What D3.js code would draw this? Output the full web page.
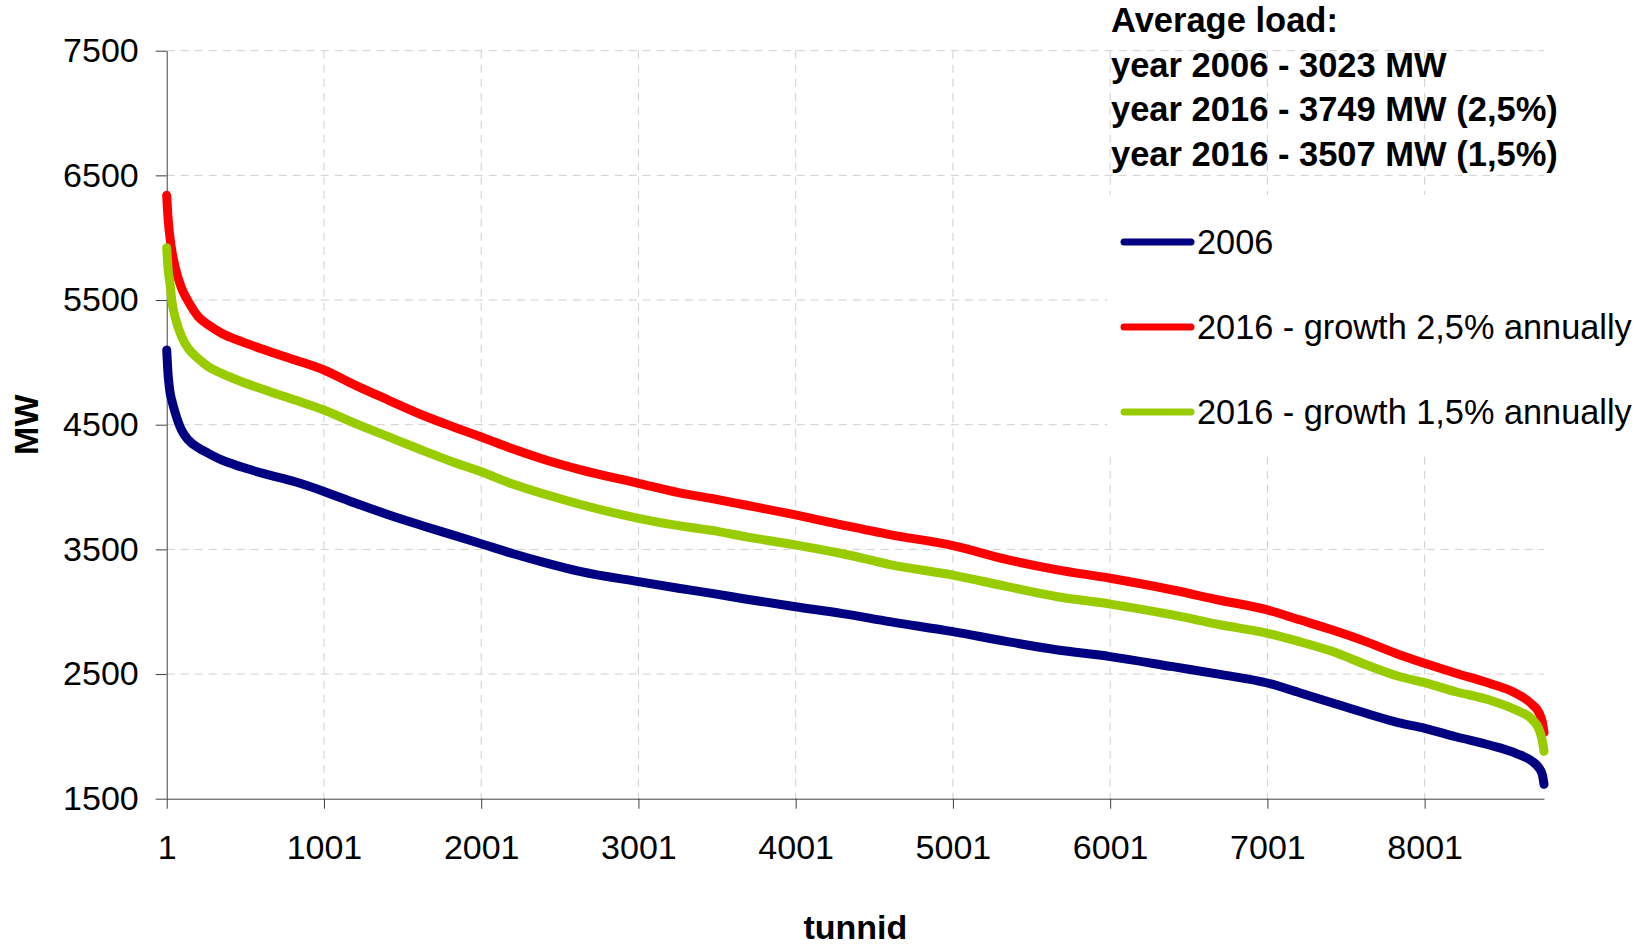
<!DOCTYPE html>
<html>
<head>
<meta charset="utf-8">
<script src="https://cdn.jsdelivr.net/npm/d3@7"></script>
<style>
  body { margin: 0; background: #fff; }
  svg { font-family: "Liberation Sans", Arial, sans-serif; }
</style>
</head>
<body>
<div id="chart"></div>
<script>
// hours of the year (load duration curve, sorted)
var hours = [1, 10, 15, 22, 33, 54, 96, 139, 202, 266, 350, 478, 626, 817, 1001, 1199, 1410, 1622, 1834, 2001,
  2205, 2417, 2628, 3001, 3256, 3468, 3680, 4001, 4300, 4600, 5001, 5340, 5658, 6001, 6399, 6700, 7001, 7205,
  7416, 7628, 7840, 8001, 8200, 8412, 8582, 8688, 8730, 8750, 8760];

var load2006 = [5100, 4900, 4832, 4760, 4698, 4600, 4455, 4377, 4315, 4270, 4217, 4160, 4105, 4042, 3965, 3872,
  3778, 3692, 3610, 3545, 3465, 3390, 3323, 3241, 3188, 3147, 3102, 3040, 2985, 2920, 2840, 2762, 2695, 2640,
  2559, 2497, 2428, 2350, 2268, 2185, 2108, 2065, 1997, 1931, 1864, 1797, 1744, 1690, 1615];

var load2016_25 = [6340, 6150, 6080, 6000, 5900, 5767, 5594, 5487, 5366, 5300, 5233, 5166, 5099, 5019, 4939, 4818,
  4698, 4580, 4478, 4402, 4305, 4215, 4140, 4030, 3955, 3908, 3856, 3776, 3695, 3618, 3530, 3420, 3338, 3268,
  3174, 3092, 3014, 2935, 2853, 2760, 2655, 2586, 2506, 2426, 2345, 2252, 2185, 2110, 2030];

var load2016_15 = [5920, 5750, 5690, 5634, 5500, 5366, 5206, 5110, 5030, 4965, 4912, 4845, 4778, 4698, 4618, 4511,
  4404, 4297, 4195, 4122, 4022, 3938, 3862, 3749, 3690, 3652, 3602, 3535, 3465, 3378, 3294, 3203, 3122, 3061,
  2974, 2895, 2827, 2760, 2680, 2575, 2480, 2431, 2358, 2292, 2211, 2131, 2051, 1960, 1880];

var seriesNames = ["2006", "2016 - growth 2,5% annually", "2016 - growth 1,5% annually"];
var seriesColors = ["#000080", "#ff0000", "#99cc00"];

var xTicks = [1, 1001, 2001, 3001, 4001, 5001, 6001, 7001, 8001];
var yTicks = [1500, 2500, 3500, 4500, 5500, 6500, 7500];

var titleLines = ["Average load:", "year 2006 - 3023 MW", "year 2016 - 3749 MW (2,5%)", "year 2016 - 3507 MW (1,5%)"];

var margin = {top: 50.7, right: 103, bottom: 146.3, left: 166.7},
    width = 1647 - margin.left - margin.right,
    height = 945 - margin.top - margin.bottom;

var svg = d3.select("#chart")
  .append("svg")
  .attr("width", 1647)
  .attr("height", 945)
  .append("g")
  .attr("transform", "translate(" + margin.left + "," + margin.top + ")");

var x = d3.scaleLinear().domain([1, 8760]).range([0, width]);
var y = d3.scaleLinear().domain([1500, 7500]).range([height, 0]);

// dashed grid
svg.append("g").selectAll("line")
  .data(xTicks.slice(1))
  .enter().append("line")
  .attr("x1", d => x(d)).attr("x2", d => x(d))
  .attr("y1", 0).attr("y2", height)
  .attr("stroke", "#cfcfcf").attr("stroke-width", 1).attr("stroke-dasharray", "8,6");

svg.append("g").selectAll("line")
  .data(yTicks.slice(1))
  .enter().append("line")
  .attr("x1", 0).attr("x2", width)
  .attr("y1", d => y(d)).attr("y2", d => y(d))
  .attr("stroke", "#cfcfcf").attr("stroke-width", 1).attr("stroke-dasharray", "8,6");

// axes
var xAxis = svg.append("g")
  .attr("transform", "translate(0," + height + ")")
  .call(d3.axisBottom(x).tickValues(xTicks).tickFormat(d3.format("d"))
    .tickSize(10).tickSizeOuter(0).tickPadding(26));
xAxis.selectAll("text").style("font-size", "34px").attr("fill", "#000");

var yAxis = svg.append("g")
  .call(d3.axisLeft(y).tickValues(yTicks).tickFormat(d3.format("d"))
    .tickSize(11).tickSizeOuter(0).tickPadding(17));
yAxis.selectAll("text").style("font-size", "34px").attr("fill", "#000");

svg.selectAll(".domain, .tick line").attr("stroke", "#404040");

// axis titles
svg.append("text")
  .attr("x", width / 2)
  .attr("y", height + 140)
  .attr("text-anchor", "middle")
  .style("font-size", "34px").style("font-weight", "bold")
  .text("tunnid");

svg.append("text")
  .attr("transform", "rotate(-90)")
  .attr("x", -height / 2)
  .attr("y", -margin.left + 38)
  .attr("text-anchor", "middle")
  .style("font-size", "34px").style("font-weight", "bold")
  .text("MW");

// lines
var line = d3.line()
  .x(d => x(d[0]))
  .y(d => y(d[1]))
  .curve(d3.curveMonotoneX);

var allSeries = [load2006, load2016_25, load2016_15];
allSeries.forEach(function(vals, i) {
  svg.append("path")
    .datum(hours.map((h, j) => [h, vals[j]]))
    .attr("fill", "none")
    .attr("stroke", seriesColors[i])
    .attr("stroke-width", 9)
    .attr("stroke-linejoin", "round")
    .attr("stroke-linecap", "round")
    .attr("d", line);
});

// legend box (white, covers grid)
var root = d3.select("#chart svg");
root.append("rect")
  .attr("x", 1107).attr("y", 195)
  .attr("width", 540).attr("height", 260)
  .attr("fill", "#fff");

var legend_x = 1124, legend_y = 242, legend_step = 85;
seriesNames.forEach(function(name, i) {
  root.append("line")
    .attr("x1", legend_x).attr("x2", legend_x + 67)
    .attr("y1", legend_y + i * legend_step).attr("y2", legend_y + i * legend_step)
    .attr("stroke", seriesColors[i]).attr("stroke-width", 7).attr("stroke-linecap", "round");
  root.append("text")
    .attr("x", legend_x + 73)
    .attr("y", legend_y + i * legend_step)
    .attr("dy", "0.35em")
    .style("font-size", "34.3px")
    .text(name);
});

// average load note
titleLines.forEach(function(t, i) {
  root.append("text")
    .attr("x", 1111)
    .attr("y", 32 + i * 44.7)
    .style("font-size", "34.5px").style("font-weight", "bold")
    .text(t);
});
</script>
</body>
</html>
